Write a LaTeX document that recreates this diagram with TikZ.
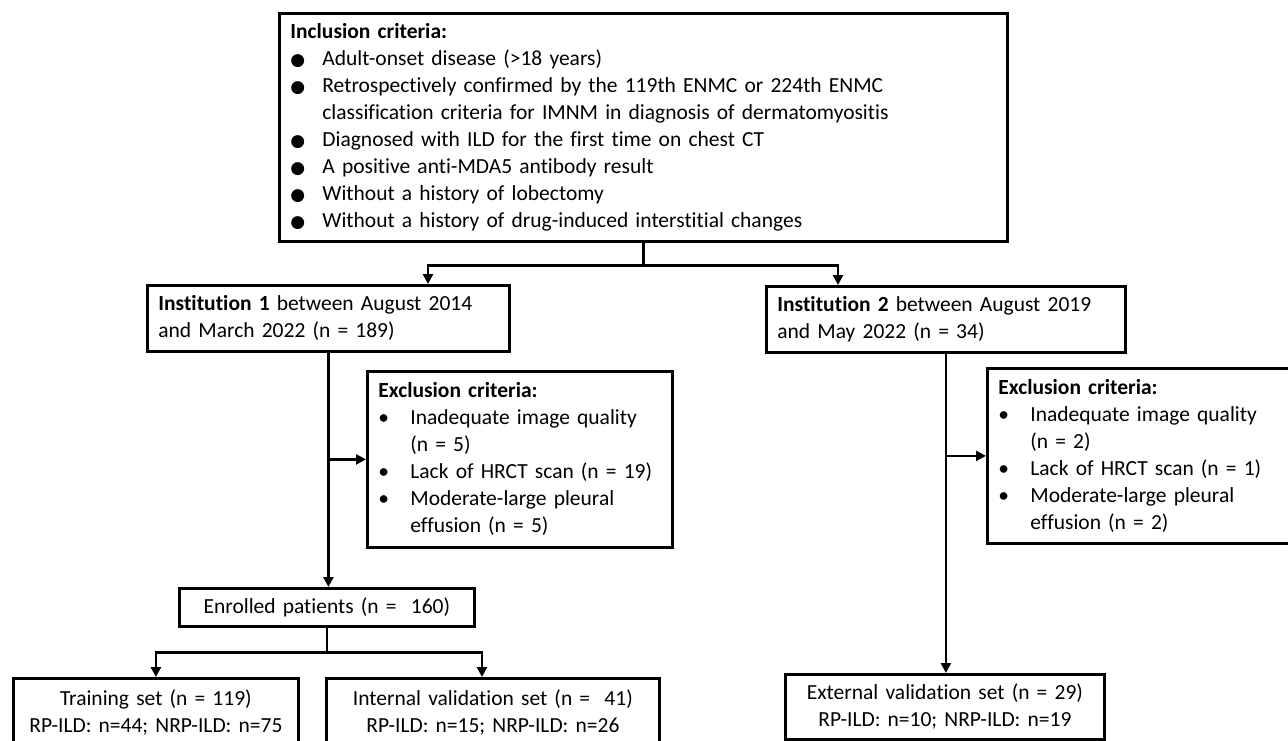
\documentclass[tikz,border=0pt]{standalone}
\usepackage{fontspec}
\setmainfont{Carlito}[Ligatures=NoCommon]
\newfontfamily\dejavu{DejaVu Sans}
\usepackage{tikz}
\usetikzlibrary{positioning,calc,arrows.meta}

\newcommand{\critem}[2]{\par\noindent\hangindent=32pt\hangafter=1\makebox[32pt][l]{#1}#2\par}
\newcommand{\bigdot}{{\dejavu\fontsize{17}{17}\selectfont ●}}

\begin{document}
\begin{tikzpicture}[x=1pt, y=-1pt,
    box/.style={draw, line width=2.8pt, inner xsep=11pt, inner ysep=0pt, anchor=north west, align=left, font=\fontsize{21.5}{27}\selectfont},
    cbox/.style={box, align=center},
    arrow/.style={line width=2.8pt, -{Triangle[length=10pt,width=10pt]}}]
    \useasboundingbox (0,0) rectangle (1288,740);

    \node [box, text width=706pt, minimum height=228pt] (top) at (278,12) {\textbf{Inclusion criteria:}
        \critem{\bigdot}{Adult-onset disease (>18 years)}
        \critem{\bigdot}{Retrospectively confirmed by the 119th ENMC or 224th ENMC\newline classification criteria for IMNM in diagnosis of dermatomyositis}
        \critem{\bigdot}{Diagnosed with ILD for the first time on chest CT}
        \critem{\bigdot}{A positive anti-MDA5 antibody result}
        \critem{\bigdot}{Without a history of lobectomy}
        \critem{\bigdot}{Without a history of drug-induced interstitial changes}}; % Inclusion
    \node [box, text width=340pt, minimum height=66pt] (inst1) at (146,284) {\textbf{Institution 1} between August 2014\\and March 2022 (n = 189)};
    \node [box, text width=337pt, minimum height=66pt] (inst2) at (765,285) {\textbf{Institution 2} between August 2019\\and May 2022 (n = 34)};
    \node [box, text width=283pt, minimum height=176pt] (excl1) at (366,370) {\textbf{Exclusion criteria:}
        \critem{\textbullet}{Inadequate image quality\newline (n = 5)}
        \critem{\textbullet}{Lack of HRCT scan (n = 19)}
        \critem{\textbullet}{Moderate-large pleural\newline effusion (n = 5)}}; % Exclusion, institution 1
    \node [box, text width=291pt, minimum height=175pt] (excl2) at (986,367) {\textbf{Exclusion criteria:}
        \critem{\textbullet}{Inadequate image quality\newline (n = 2)}
        \critem{\textbullet}{Lack of HRCT scan (n = 1)}
        \critem{\textbullet}{Moderate-large pleural\newline effusion (n = 2)}}; % Exclusion, institution 2
    \node [cbox, text width=273pt, minimum height=38pt] (enrolled) at (178,587) {Enrolled patients (n =~~160)};
    \node [cbox, text width=263pt, minimum height=68pt] (train) at (12,677) {Training set (n = 119)\\RP-ILD: n=44; NRP-ILD: n=75};
    \node [cbox, text width=311pt, minimum height=68pt] (internal) at (325,677) {Internal validation set (n =~~41)\\RP-ILD: n=15; NRP-ILD: n=26};
    \node [cbox, text width=297pt, minimum height=65pt] (ext) at (784,673) {External validation set (n = 29)\\RP-ILD: n=10; NRP-ILD: n=19};

    \coordinate (in1) at (428,284);
    \coordinate (in2) at (838,285);
    \coordinate (in3) at (482,677);

    \draw [arrow] (top.south) -- ++(0,23) -| (in1); % to institution 1
    \draw [arrow] (top.south) -- ++(0,23) -| (in2); % to institution 2
    \draw [arrow] (inst1.south) -- (inst1.south |- enrolled.north);
    \draw [arrow] (inst1.south |- excl1.west) -- (excl1.west);
    \draw [arrow] (enrolled.south) -- ++(0,25) -| (train.north);
    \draw [arrow] (enrolled.south) -- ++(0,25) -| (in3);
    \draw [arrow] (inst2.south) -- (inst2.south |- ext.north);
    \draw [arrow] (inst2.south |- excl2.west) -- (excl2.west);
\end{tikzpicture}
\end{document}
